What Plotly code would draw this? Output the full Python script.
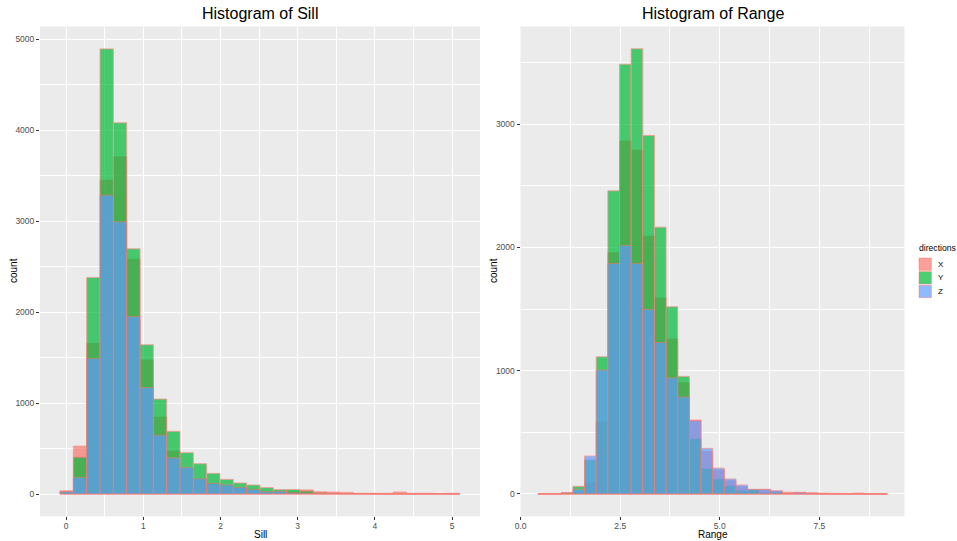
import numpy as np
import plotly.graph_objects as go

# ---------------- data ----------------
directions = ["X", "Y", "Z"]
fill_colors = ["#F8766D", "#00BA38", "#619CFF"]

# Sill histogram: 30 bins (ggplot default)
sill_first_center = 0.0087
sill_bin_width = 0.1726
sill_X = [36, 527, 1656, 3451, 3707, 2582, 1473, 846, 473, 285, 165, 115, 95, 70, 50,
          26, 30, 25, 45, 25, 22, 18, 8, 8, 8, 22, 8, 8, 5, 8]
sill_Y = [25, 405, 2381, 4894, 4081, 2696, 1641, 1044, 689, 454, 333, 227, 161, 121, 99,
          70, 48, 50, 33, 15, 8, 3, 2, 1, 0, 0, 0, 0, 0, 0]
sill_Z = [25, 183, 1491, 3286, 2993, 1952, 1170, 648, 399, 293, 168, 117, 99, 74, 51,
          26, 30, 12, 8, 5, 5, 3, 2, 0, 0, 0, 0, 0, 0, 0]

# Range histogram: 30 bins
range_first_center = 0.581
range_bin_width = 0.2925
range_X = [3, 3, 10, 15, 87, 586, 1957, 2863, 2790, 2092, 1590, 1257, 903, 600, 345,
           195, 108, 60, 30, 35, 20, 14, 14, 10, 7, 5, 2, 7, 2, 2]
range_Y = [0, 0, 10, 62, 276, 1113, 2460, 3487, 3612, 2909, 2165, 1519, 954, 449, 208,
           122, 65, 30, 35, 10, 15, 5, 3, 1, 0, 0, 0, 0, 0, 0]
range_Z = [0, 0, 3, 38, 308, 1006, 1871, 2017, 1871, 1498, 1230, 943, 787, 595, 370,
           210, 122, 73, 38, 38, 27, 5, 12, 5, 1, 0, 0, 0, 0, 0]

sill_ticks = [0, 1, 2, 3, 4, 5]
sill_count_ticks = [0, 1000, 2000, 3000, 4000, 5000]
range_ticks = [0.0, 2.5, 5.0, 7.5]
range_count_ticks = [0, 1000, 2000, 3000]

# ---------------- figure ----------------
FONT = "Liberation Sans, Arial, sans-serif"
outline = "rgba(248,118,109,0.8)"
ALPHA = 0.7

sill_centers = sill_first_center + sill_bin_width * np.arange(len(sill_X))
range_centers = range_first_center + range_bin_width * np.arange(len(range_X))

fig = go.Figure()
for d, col, vals in zip(directions, fill_colors, [sill_X, sill_Y, sill_Z]):
    fig.add_trace(go.Bar(
        x=sill_centers, y=vals, width=sill_bin_width, name=d, legendgroup=d,
        marker=dict(color=col, line=dict(color=outline, width=1)),
        opacity=ALPHA, xaxis="x", yaxis="y", showlegend=False))
for d, col, vals in zip(directions, fill_colors, [range_X, range_Y, range_Z]):
    fig.add_trace(go.Bar(
        x=range_centers, y=vals, width=range_bin_width, name=d, legendgroup=d,
        marker=dict(color=col, line=dict(color=outline, width=1)),
        opacity=ALPHA, xaxis="x2", yaxis="y2", showlegend=False))

W, H = 957, 541
top_px, bot_px = 26.5, 516.3
ydom = [(H - bot_px) / H, (H - top_px) / H]

def axis_common(standoff, **kw):
    d = dict(
        ticks="outside", ticklen=3, tickwidth=1, tickcolor="#333333",
        tickfont=dict(family=FONT, size=8.5, color="#4D4D4D"),
        showgrid=True, gridcolor="#FFFFFF", gridwidth=1.2,
        zeroline=False, showline=False, ticklabelstandoff=standoff,
        automargin=False,
    )
    d.update(kw)
    return d

fig.update_layout(
    width=W, height=H, autosize=False,
    margin=dict(l=0, r=0, t=0, b=0, autoexpand=False),
    paper_bgcolor="#FFFFFF", plot_bgcolor="#EBEBEB",
    barmode="overlay", showlegend=False,
    font=dict(family=FONT, color="#000000"),
    xaxis=axis_common(-2, domain=[40 / W, 480 / W], range=[-0.337, 5.36], anchor="y",
                      tickmode="array", tickvals=sill_ticks,
                      ticktext=[str(v) for v in sill_ticks],
                      minor=dict(dtick=0.5, tick0=0, showgrid=True, gridcolor="#FFFFFF",
                                 gridwidth=0.6, ticks="")),
    yaxis=axis_common(0, domain=ydom, range=[-245, 5140], anchor="x",
                      tickmode="array", tickvals=sill_count_ticks,
                      ticktext=[str(v) for v in sill_count_ticks],
                      minor=dict(dtick=500, tick0=0, showgrid=True, gridcolor="#FFFFFF",
                                 gridwidth=0.6, ticks="")),
    xaxis2=axis_common(-2, domain=[520.5 / W, 904.5 / W], range=[-0.004, 9.64], anchor="y2",
                       tickmode="array", tickvals=range_ticks,
                       ticktext=[f"{v:.1f}" for v in range_ticks],
                       minor=dict(dtick=1.25, tick0=0, showgrid=True, gridcolor="#FFFFFF",
                                  gridwidth=0.6, ticks="")),
    yaxis2=axis_common(0, domain=ydom, range=[-181, 3793], anchor="x2",
                       tickmode="array", tickvals=range_count_ticks,
                       ticktext=[str(v) for v in range_count_ticks],
                       minor=dict(dtick=500, tick0=0, showgrid=True, gridcolor="#FFFFFF",
                                  gridwidth=0.6, ticks="")),
)

def ann(text, x, y, size, angle=0, color="#000000", xanchor="center"):
    fig.add_annotation(text=text, x=x / W, y=1 - y / H, xref="paper", yref="paper",
                       showarrow=False, textangle=angle, borderpad=0,
                       font=dict(family=FONT, size=size, color=color),
                       xanchor=xanchor, yanchor="middle")

ann("Histogram of Sill", 260, 13.5, 16)
ann("Histogram of Range", 712.5, 13.5, 16)
ann("Sill", 260, 534, 10)
ann("Range", 712.5, 534, 10)
ann("count", 13, 271, 10, angle=-90)
ann("count", 493, 271, 10, angle=-90)

# ---- legend (ggplot-style, compact keys) ----
def hex_rgba(h, a):
    h = h.lstrip("#")
    return f"rgba({int(h[0:2],16)},{int(h[2:4],16)},{int(h[4:6],16)},{a})"

ann("directions", 917.5, 248, 8.6, xanchor="left")
key_x0, key_size, key_top, key_pitch = 919, 12.4, 258, 13.6
for i, (d, col) in enumerate(zip(directions, fill_colors)):
    y0 = key_top + i * key_pitch
    fig.add_shape(type="rect", xref="paper", yref="paper",
                  x0=key_x0 / W, x1=(key_x0 + key_size) / W,
                  y0=1 - y0 / H, y1=1 - (y0 + key_size) / H,
                  fillcolor=hex_rgba(col, ALPHA),
                  line=dict(color="rgba(248,118,109,0.45)", width=1))
    ann(d, 937, y0 + key_size / 2, 8, xanchor="left")

fig.write_html("out.html")
